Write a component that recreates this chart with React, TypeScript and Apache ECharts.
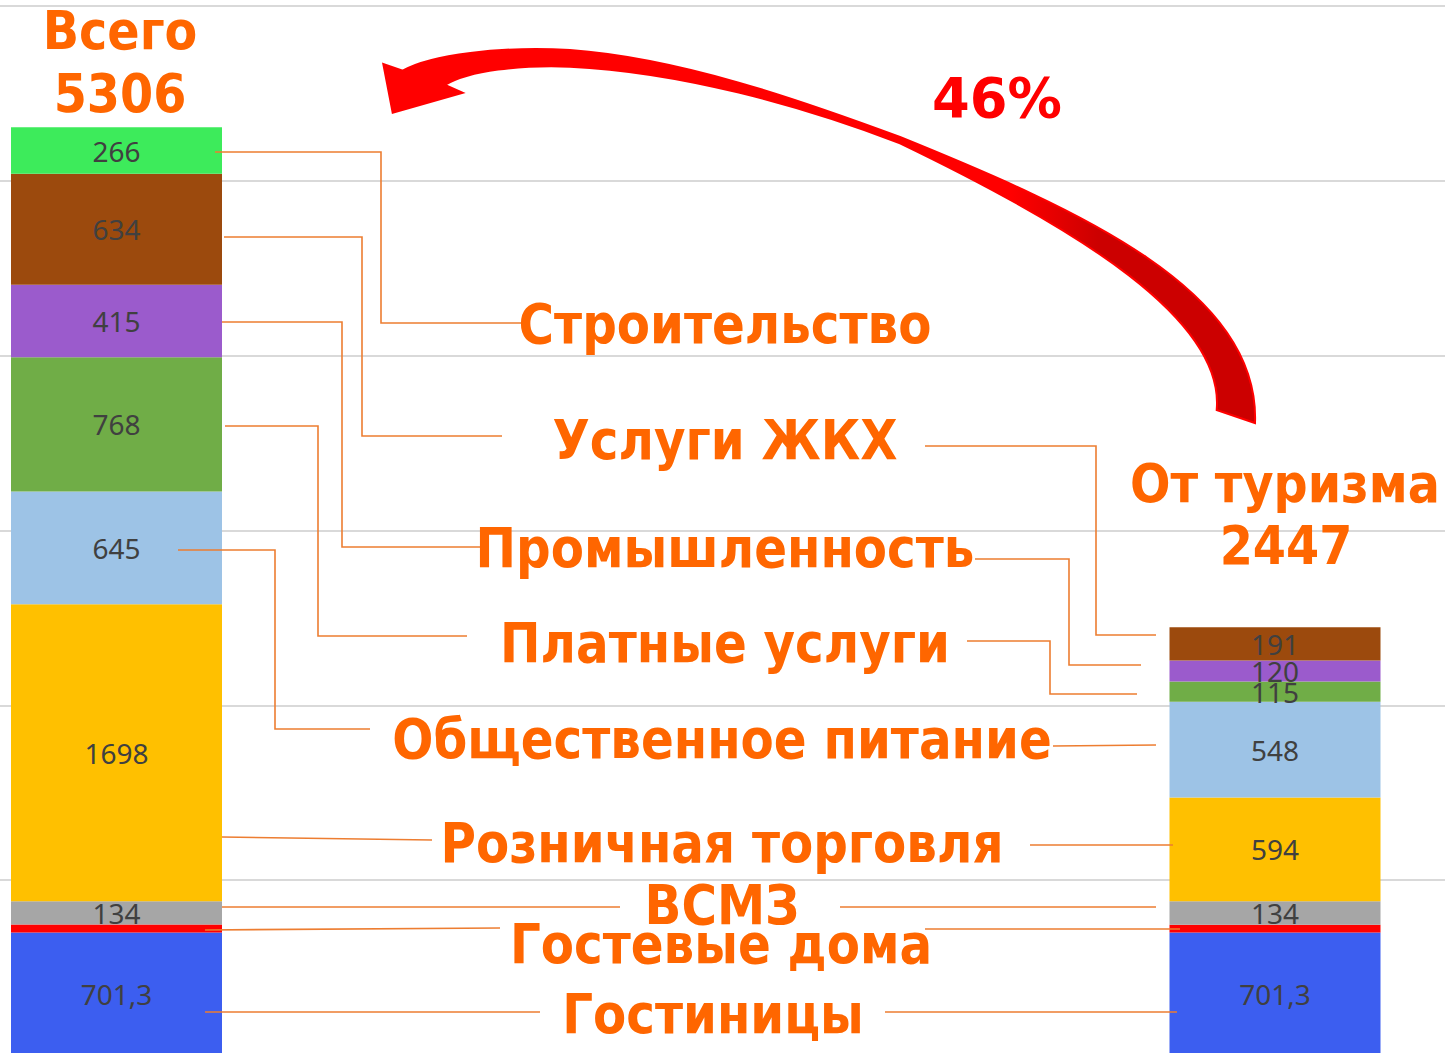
import React, { useEffect, useRef } from "react";
import * as echarts from "echarts";

// ---- Data ----
const categories = ["Всего", "От туризма"];
const seriesNames = [
  "Гостиницы",
  "Гостевые дома",
  "ВСМЗ",
  "Розничная торговля",
  "Общественное питание",
  "Платные услуги",
  "Промышленность",
  "Услуги ЖКХ",
  "Строительство",
];
const totalValues = [701.3, 44.7, 134, 1698, 645, 768, 415, 634, 266];
const tourismValues = [701.3, 43.7, 134, 594, 548, 115, 120, 191, 0];
const hiddenLabelSeries = ["Гостевые дома"];
const totalTitles = ["Всего", "5306"];
const tourismTitles = ["От туризма", "2447"];
const shareText = "46%";
const yMax = 6000;
const yInterval = 1000;

// ---- Styles ----
const seriesColors = [
  "#3C5EF0",
  "#FF0000",
  "#A6A6A6",
  "#FFC000",
  "#9DC3E6",
  "#70AD47",
  "#9B5BCC",
  "#9C4A0D",
  "#3DEB5B",
];
const ORANGE = "#FF6600";
const LEADER = "#ED7D31";

// label anchor positions (center x, center y) for category names, same order as seriesNames
const nameLabelPos: number[][] = [
  [713, 1014],
  [721, 944],
  [722, 905],
  [722, 843],
  [722, 739],
  [725, 643],
  [725, 548],
  [725, 440],
  [725, 324],
];

// leader line paths, same order as seriesNames
const leaderLines: number[][][][] = [
  [[[205, 1012], [540, 1012]], [[885, 1012], [1177, 1012]]],
  [[[205, 930], [500, 928]], [[925, 929], [1180, 929]]],
  [[[222, 907], [620, 907]], [[840, 907], [1156, 907]]],
  [[[222, 837], [432, 840]], [[1030, 845], [1173, 845]]],
  [[[178, 550], [275, 550], [275, 729], [370, 729]], [[1053, 746], [1156, 745]]],
  [[[225, 426], [318, 426], [318, 636], [467, 636]], [[967, 641], [1050, 641], [1050, 694], [1137, 694]]],
  [[[222, 322], [342, 322], [342, 547], [482, 547]], [[975, 559], [1069, 559], [1069, 665], [1141, 665]]],
  [[[224, 237], [362, 237], [362, 436], [502, 436]], [[925, 446], [1096, 446], [1096, 635], [1156, 635]]],
  [[[215, 152], [381, 152], [381, 323], [522, 323]]],
];

const arrowD =
  "M 402.7 70.7 C 430 55 500 46 570 50 C 680 58 800 100 900 137 " +
  "C 1080 210 1260 290 1255 423 L 1216.7 410 " +
  "C 1225 320 1080 230 900 143.3 C 800 105 680 72 570 66.7 " +
  "C 520 65 470 70 445 85 L 462.7 92.7 L 392.7 112.7 L 383.3 64 Z";

let registered = false;
function registerArrow() {
  if (registered) return;
  registered = true;
  const ArrowShape = (echarts.graphic as any).extendPath(arrowD, {});
  (echarts.graphic as any).registerShape("arrow46", ArrowShape);
}

function bigText(text: string, x: number, y: number, size: number, scaleX: number, color: string) {
  return {
    type: "text",
    x,
    y,
    scaleX,
    z: 120,
    style: {
      text,
      x: 0,
      y: 0,
      fill: color,
      fontSize: size,
      fontWeight: "bold",
      fontFamily: "DejaVu Sans",
      align: "center",
      verticalAlign: "middle",
      textAlign: "center",
      textVerticalAlign: "middle",
    },
  };
}

export default function App() {
  const ref = useRef<HTMLDivElement>(null);

  useEffect(() => {
    if (!ref.current) return;
    registerArrow();
    const chart = echarts.init(ref.current, undefined, { renderer: "svg" });

    const series = seriesNames.map((name, i) => ({
      name,
      type: "bar",
      stack: "total",
      xAxisIndex: 0,
      yAxisIndex: 0,
      barWidth: 211,
      clip: false,
      data: [totalValues[i], tourismValues[i]],
      itemStyle: { color: seriesColors[i] },
      label: {
        show: !hiddenLabelSeries.includes(name),
        position: "inside",
        color: "#404040",
        fontSize: 28,
        fontFamily: "Noto Sans",
        formatter: (p: any) => (p.value === 0 ? "" : String(p.value).replace(".", ",")),
      },
    }));

    const graphics: any[] = [];
    leaderLines.forEach((lines) => {
      lines.forEach((pts) => {
        graphics.push({
          type: "polyline",
          z: 110,
          shape: { points: pts },
          style: { stroke: LEADER, lineWidth: 1.6, fill: null },
        });
      });
    });
    seriesNames.forEach((name, i) => {
      graphics.push(bigText(name, nameLabelPos[i][0], nameLabelPos[i][1], 55, 0.88, ORANGE));
    });
    graphics.push(bigText(totalTitles[0], 120, 31, 53, 0.9, ORANGE));
    graphics.push(bigText(totalTitles[1], 120, 94, 53, 0.9, ORANGE));
    graphics.push(bigText(tourismTitles[0], 1285, 484, 53, 0.9, ORANGE));
    graphics.push(bigText(tourismTitles[1], 1286, 546, 53, 0.9, ORANGE));
    graphics.push(bigText(shareText, 997, 98, 56, 0.97, "#FF0000"));
    graphics.push({
      type: "arrow46",
      z: 100,
      style: {
        fill: new echarts.graphic.LinearGradient(0, 0, 1, 0, [
          { offset: 0, color: "#FF0000" },
          { offset: 0.72, color: "#FF0000" },
          { offset: 0.82, color: "#CC0000" },
          { offset: 1, color: "#CC0000" },
        ]),
        stroke: "#FF0000",
        lineWidth: 2,
      },
    });

    chart.setOption({
      animation: false,
      grid: [
        { left: 116.5, right: 170, top: 6, bottom: 0 },
        { left: 0, right: 0, top: 6, bottom: 0 },
      ],
      xAxis: [
        { type: "category", gridIndex: 0, data: categories, boundaryGap: false, show: false },
        { type: "value", gridIndex: 1, min: 0, max: 1, show: false },
      ],
      yAxis: [
        { type: "value", gridIndex: 0, min: 0, max: yMax, interval: yInterval, show: false },
        {
          type: "value",
          gridIndex: 1,
          min: 0,
          max: yMax,
          interval: yInterval,
          axisLabel: { show: false },
          axisLine: { show: false },
          axisTick: { show: false },
          splitLine: { show: true, lineStyle: { color: "#D9D9D9", width: 2 } },
        },
      ],
      series,
      graphic: { elements: graphics },
    });

    return () => chart.dispose();
  }, []);

  return (
    <div
      style={{
        position: "absolute",
        left: 0,
        top: 0,
        width: 1445,
        height: 1053,
        overflow: "hidden",
        background: "#fff",
      }}
    >
      <div ref={ref} style={{ width: 1445, height: 1055 }} />
    </div>
  );
}
